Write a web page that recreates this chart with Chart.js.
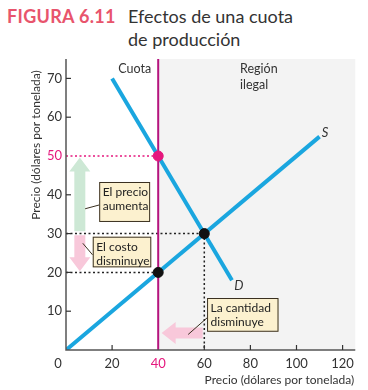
<!DOCTYPE html>
<html><head><meta charset="utf-8">
<script src="https://cdn.jsdelivr.net/npm/chart.js@4"></script>
<style>
html,body{margin:0;padding:0;background:#fff;}
#wrap{position:relative;width:368px;height:390px;overflow:hidden;font-family:Lato,"Open Sans",sans-serif;}
#fig{position:absolute;left:7px;top:5px;font-size:18px;font-weight:bold;color:#E8546C;letter-spacing:0.3px;}
#ttl{position:absolute;left:128px;top:5px;font-size:18px;line-height:23px;color:#333;}
canvas{position:absolute;left:0;top:0;}
</style></head>
<body><div id="wrap">
<div id="fig">FIGURA 6.11</div>
<div id="ttl">Efectos de una cuota<br>de producción</div>
<canvas id="c" width="368" height="390"></canvas>
</div>
<script>
// ---- data ----
const xTicks = [0, 20, 40, 60, 80, 100, 120];
const yTicks = [10, 20, 30, 40, 50, 60, 70];
const supplyX = [0, 110];
const supplyY = [0, 55];
const demandX = [20, 72];
const demandY = [70, 18];
const quotaQty = 40;
const equilibrium = [60, 30];
const quotaPrice = [40, 50];
const quotaCost = [40, 20];

const BLUE = '#1AA6DF', MAG = '#B5147E', PINK = '#E5177D';
const FONT = 'Lato, "Open Sans", sans-serif';

const pts = (xs, ys) => xs.map((x, i) => ({x, y: ys[i]}));

const decor = {
  id: 'decor',
  beforeDatasetsDraw(chart) {
    const {ctx, scales: {x, y}} = chart;
    ctx.save();
    // illegal region
    ctx.fillStyle = '#F3F3F3';
    const x0 = x.getPixelForValue(quotaQty), x1 = x.getPixelForValue(125.5);
    const yt = y.getPixelForValue(75), yb = y.getPixelForValue(0);
    ctx.fillRect(x0, yt, x1 - x0, yb - yt);
    // dotted lines
    ctx.lineWidth = 1.5;
    ctx.setLineDash([2, 2.5]);
    const dl = (xa, ya, xb, yb2, col) => {
      ctx.strokeStyle = col; ctx.beginPath();
      ctx.moveTo(x.getPixelForValue(xa), y.getPixelForValue(ya));
      ctx.lineTo(x.getPixelForValue(xb), y.getPixelForValue(yb2)); ctx.stroke();
    };
    dl(0, quotaPrice[1], quotaPrice[0], quotaPrice[1], PINK);
    dl(0, equilibrium[1], equilibrium[0], equilibrium[1], '#222');
    dl(0, quotaCost[1], quotaCost[0], quotaCost[1], '#222');
    dl(equilibrium[0], equilibrium[1], equilibrium[0], 0, '#222');
    ctx.setLineDash([]);
    // arrows
    const ax = x.getPixelForValue(6);
    const arrowV = (yFrom, yTo, col) => {
      const p0 = y.getPixelForValue(yFrom), p1 = y.getPixelForValue(yTo);
      const dir = Math.sign(p1 - p0), hl = 14;
      ctx.fillStyle = col; ctx.beginPath();
      ctx.moveTo(ax - 5.5, p0); ctx.lineTo(ax - 5.5, p1 - dir * hl); ctx.lineTo(ax - 10.5, p1 - dir * hl);
      ctx.lineTo(ax, p1); ctx.lineTo(ax + 10.5, p1 - dir * hl); ctx.lineTo(ax + 5.5, p1 - dir * hl);
      ctx.lineTo(ax + 5.5, p0); ctx.closePath(); ctx.fill();
    };
    arrowV(30.6, 49.6, '#CDE8D5');
    arrowV(29.6, 20.3, '#F8C8DA');
    // left arrow
    const ay = y.getPixelForValue(4.4);
    const px0 = x.getPixelForValue(59.3), px1 = x.getPixelForValue(41.5);
    ctx.fillStyle = '#F8C8DA'; ctx.beginPath();
    ctx.moveTo(px0, ay - 5.5); ctx.lineTo(px1 + 14, ay - 5.5); ctx.lineTo(px1 + 14, ay - 11);
    ctx.lineTo(px1, ay); ctx.lineTo(px1 + 14, ay + 11); ctx.lineTo(px1 + 14, ay + 5.5);
    ctx.lineTo(px0, ay + 5.5); ctx.closePath(); ctx.fill();
    ctx.restore();
  },
  afterDatasetsDraw(chart) {
    const {ctx, scales: {x, y}} = chart;
    ctx.save();
    // axes
    ctx.strokeStyle = '#555'; ctx.lineWidth = 1.5;
    const ox = x.getPixelForValue(0), oy = y.getPixelForValue(0);
    ctx.beginPath(); ctx.moveTo(ox, y.getPixelForValue(75)); ctx.lineTo(ox, oy);
    ctx.lineTo(x.getPixelForValue(125.5), oy); ctx.stroke();
    // ticks
    ctx.lineWidth = 1.2; ctx.strokeStyle = '#333';
    yTicks.forEach(v => {
      if (v === 50) return;
      const p = y.getPixelForValue(v);
      ctx.beginPath(); ctx.moveTo(ox, p); ctx.lineTo(ox + 5, p); ctx.stroke();
    });
    xTicks.forEach(v => {
      if (v === 0 || v === 40) return;
      const p = x.getPixelForValue(v);
      ctx.beginPath(); ctx.moveTo(p, oy); ctx.lineTo(p, oy - 5); ctx.stroke();
    });
    // tick labels
    ctx.font = '13px ' + FONT; ctx.textBaseline = 'middle';
    ctx.textAlign = 'right';
    yTicks.forEach(v => {
      ctx.fillStyle = v === 50 ? PINK : '#333';
      ctx.fillText(String(v), ox - 4, y.getPixelForValue(v));
    });
    ctx.textAlign = 'center';
    xTicks.forEach(v => {
      ctx.fillStyle = v === 40 ? PINK : '#333';
      ctx.fillText(String(v), v === 0 ? ox - 8 : x.getPixelForValue(v), oy + 14);
    });
    // axis titles
    ctx.font = '12px ' + FONT; ctx.fillStyle = '#333';
    ctx.textAlign = 'right';
    ctx.fillText('Precio (dólares por tonelada)', x.getPixelForValue(125), oy + 30);
    ctx.save(); ctx.translate(36, 145); ctx.rotate(-Math.PI / 2);
    ctx.textAlign = 'center'; ctx.fillText('Precio (dólares por tonelada)', 0, 0); ctx.restore();
    // labels
    ctx.font = '12.5px ' + FONT; ctx.textAlign = 'right';
    ctx.fillText('Cuota', x.getPixelForValue(quotaQty) - 7, y.getPixelForValue(72.5));
    ctx.textAlign = 'left';
    ctx.fillText('Región', x.getPixelForValue(75.5), y.getPixelForValue(72.5));
    ctx.fillText('ilegal', x.getPixelForValue(75.5), y.getPixelForValue(68.3));
    ctx.font = 'italic 13px ' + FONT;
    ctx.fillText('S', x.getPixelForValue(111), y.getPixelForValue(56));
    ctx.fillText('D', x.getPixelForValue(73), y.getPixelForValue(16.5));
    // boxes
    const box = (xa, xb, ya, yb2, lines, lx, ly) => {
      const L = x.getPixelForValue(xa), R = x.getPixelForValue(xb);
      const T = y.getPixelForValue(ya), B = y.getPixelForValue(yb2);
      ctx.strokeStyle = '#3A3020'; ctx.lineWidth = 1;
      ctx.beginPath(); ctx.moveTo(L, (T + B) / 2 + 3);
      ctx.lineTo(x.getPixelForValue(lx), y.getPixelForValue(ly)); ctx.stroke();
      ctx.fillStyle = '#FCF1CF'; ctx.fillRect(L, T, R - L, B - T);
      ctx.strokeRect(L + 0.5, T + 0.5, R - L - 1, B - T - 1);
      ctx.fillStyle = '#222'; ctx.font = '12px ' + FONT; ctx.textAlign = 'left';
      lines.forEach((t, i) => ctx.fillText(t, L + 3.5, T + 10 + i * 14.5));
    };
    box(14.4, 36.5, 43.3, 33.0, ['El precio', 'aumenta'], 8.3, 36.4);
    box(11.6, 37.0, 29.2, 21.3, ['El costo', 'disminuye'], 7.3, 27.5);
    box(61.2, 92.2, 13.4, 4.7, ['La cantidad', 'disminuye'], 53, 4.0);
    ctx.restore();
  }
};

new Chart(document.getElementById('c'), {
  type: 'scatter',
  data: {
    datasets: [
      {data: [{x: equilibrium[0], y: equilibrium[1]}, {x: quotaCost[0], y: quotaCost[1]}], order: 0, pointRadius: 5, pointBackgroundColor: '#111', pointBorderColor: '#111', showLine: false},
      {data: [{x: quotaPrice[0], y: quotaPrice[1]}], order: 0, pointRadius: 5, pointBackgroundColor: PINK, pointBorderColor: PINK, showLine: false},
      {data: pts([quotaQty, quotaQty], [0, 75]), order: 1, showLine: true, borderColor: MAG, borderWidth: 2, pointRadius: 0},
      {data: pts(supplyX, supplyY), order: 2, showLine: true, borderColor: BLUE, borderWidth: 4, pointRadius: 0},
      {data: pts(demandX, demandY), order: 2, showLine: true, borderColor: BLUE, borderWidth: 4, pointRadius: 0}
    ]
  },
  options: {
    responsive: false, animation: false, devicePixelRatio: 1,
    layout: {padding: {left: 66, right: 12.5, top: 59, bottom: 40}},
    plugins: {legend: {display: false}, tooltip: {enabled: false}},
    scales: {
      x: {type: 'linear', min: 0, max: 125.6, display: false},
      y: {type: 'linear', min: 0, max: 75, display: false}
    }
  },
  plugins: [decor]
});
</script>
</body></html>
